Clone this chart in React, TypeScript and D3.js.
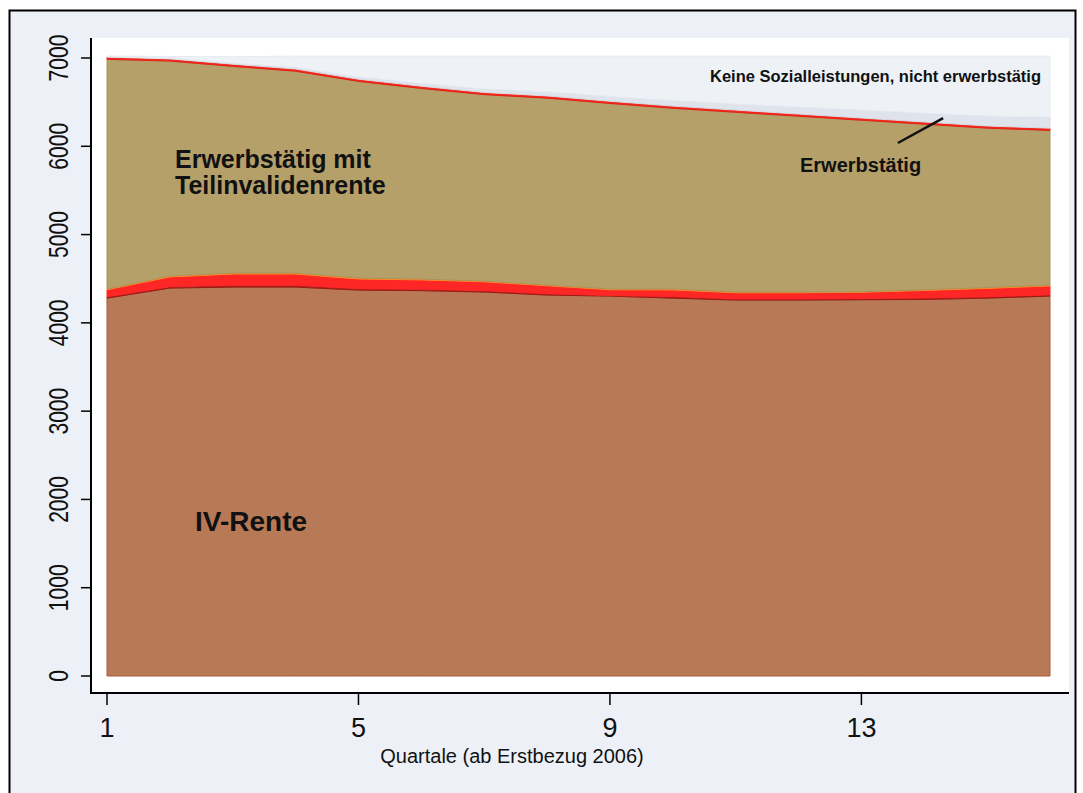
import React from "react";
import * as d3 from "d3";

const quarters = [1, 2, 3, 4, 5, 6, 7, 8, 9, 10, 11, 12, 13, 14, 15, 16];
const ivRente = [4280, 4394, 4405, 4405, 4371, 4365, 4349, 4315, 4303, 4280, 4258, 4258, 4262, 4265, 4280, 4303];
const ivDunkel = [15, 16, 22, 22, 16, 16, 16, 15, 7, 18, 13, 13, 14, 17, 15, 15];
const ivRot = [80, 110, 125, 125, 110, 105, 100, 90, 65, 75, 70, 70, 70, 85, 95, 100];
const ivOrange = [8, 10, 12, 12, 10, 10, 8, 8, 8, 10, 8, 8, 6, 8, 10, 10];
const teilIV = [2602, 2435, 2341, 2286, 2228, 2159, 2112, 2117, 2102, 2047, 2036, 1991, 1943, 1875, 1805, 1752];
const erwerb = [25, 25, 25, 25, 25, 25, 25, 25, 25, 25, 25, 25, 25, 25, 25, 25];
const andere = [5, 8, 12, 18, 25, 32, 40, 48, 55, 62, 70, 80, 90, 100, 112, 125];
const keine = [7, 19, 72, 129, 237, 310, 372, 404, 457, 505, 542, 577, 612, 647, 680, 692];

const seriesNames = ["ivRente", "ivDunkel", "ivRot", "ivOrange", "teilIV", "erwerb", "andere", "keine"];
const seriesValues = [ivRente, ivDunkel, ivRot, ivOrange, teilIV, erwerb, andere, keine];
const seriesFill = ["#b87a56", "#b3201c", "#ff2626", "#ff8a1e", "#b5a06a", "#f42a1c", "#dfe4ec", "#eef2f7"];
const seriesStroke = ["#a85a38", "#9a1a16", "#ff2626", "#ff8a1e", "#a89262", "#e81e14", "#d6dce5", "#e6ebf2"];

const yTicks = [0, 1000, 2000, 3000, 4000, 5000, 6000, 7000];
const xTicks = [1, 5, 9, 13];
const xTitle = "Quartale (ab Erstbezug 2006)";

export default function App() {
  const W = 1083;
  const H = 793;
  const x = d3.scaleLinear().domain([1, 16]).range([107, 1050]);
  const y = d3.scaleLinear().domain([0, 7000]).range([676, 58]);

  const table = quarters.map((q, i) => {
    const row: any = { q };
    seriesNames.forEach((n, k) => (row[n] = seriesValues[k][i]));
    return row;
  });
  const stack = d3.stack<any>().keys(seriesNames)(table);
  const area = d3
    .area<any>()
    .x((d) => x(d.data.q))
    .y0((d) => y(d[0]))
    .y1((d) => y(d[1]));

  const font = "'Liberation Sans', Arial, sans-serif";

  return (
    <div style={{ position: "fixed", left: 0, top: 0 }}>
      <svg width={W} height={H} style={{ display: "block" }}>
        <rect x={0} y={0} width={W} height={H} fill="#ffffff" />
        <rect x={9.5} y={10.5} width={1066} height={790} fill="#edf1f7" stroke="#000" strokeWidth={2} />
        <rect x={92} y={38} width={977} height={655} fill="#ffffff" />
        {stack.map((s, k) => (
          <path key={k} d={area(s) || ""} fill={seriesFill[k]} stroke={seriesStroke[k]} strokeWidth={1} />
        ))}
        {/* axes */}
        <line x1={91} x2={91} y1={38} y2={694} stroke="#000" strokeWidth={2} />
        <line x1={90} x2={1069} y1={693} y2={693} stroke="#000" strokeWidth={2} />
        {yTicks.map((t) => (
          <g key={t}>
            <line x1={81} x2={91} y1={y(t)} y2={y(t)} stroke="#000" strokeWidth={1.5} />
            <text
              transform={`translate(68,${y(t)}) rotate(-90) scale(0.78,1)`}
              textAnchor="middle"
              fontFamily={font}
              fontSize={27}
              fill="#111"
            >
              {t}
            </text>
          </g>
        ))}
        {xTicks.map((t) => (
          <g key={t}>
            <line x1={x(t)} x2={x(t)} y1={693} y2={705} stroke="#000" strokeWidth={1.5} />
            <text x={x(t)} y={737} textAnchor="middle" fontFamily={font} fontSize={27} fill="#111">
              {t}
            </text>
          </g>
        ))}
        <text x={512} y={763} textAnchor="middle" fontFamily={font} fontSize={20} fill="#111">
          {xTitle}
        </text>
        {/* annotations */}
        <text x={175} y={168} fontFamily={font} fontSize={25} fontWeight="bold" fill="#111">
          Erwerbstätig mit
        </text>
        <text x={175} y={194} fontFamily={font} fontSize={25} fontWeight="bold" fill="#111">
          Teilinvalidenrente
        </text>
        <text x={195} y={531} fontFamily={font} fontSize={28} fontWeight="bold" fill="#111">
          IV-Rente
        </text>
        <text x={710} y={82} fontFamily={font} fontSize={16.5} fontWeight="bold" fill="#111">
          Keine Sozialleistungen, nicht erwerbstätig
        </text>
        <text x={800} y={172} fontFamily={font} fontSize={20} fontWeight="bold" fill="#111">
          Erwerbstätig
        </text>
        <line
          x1={x(13.58)}
          y1={y(6037)}
          x2={x(14.3)}
          y2={y(6320)}
          stroke="#111"
          strokeWidth={2.5}
        />
      </svg>
    </div>
  );
}
